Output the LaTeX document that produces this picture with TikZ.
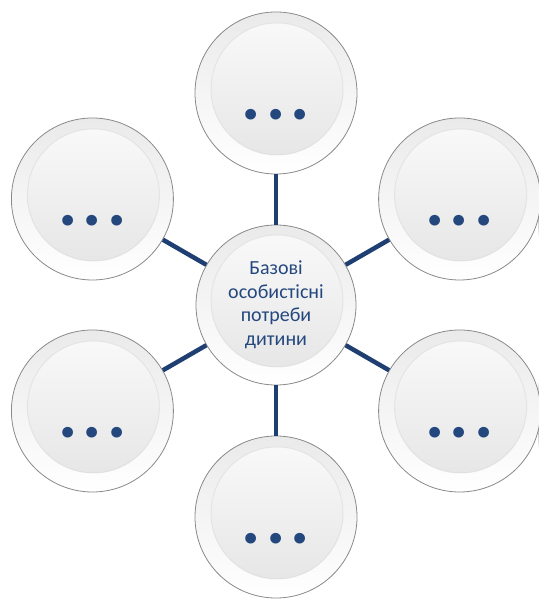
\documentclass[tikz,border=0pt]{standalone}
\usepackage{fontspec}
\setmainfont{Carlito}
\usetikzlibrary{backgrounds}
\definecolor{linkblue}{HTML}{1F3F73}
\definecolor{txtblue}{HTML}{24487E}
\definecolor{ringedge}{HTML}{8A8A8A}
\definecolor{ringtop}{HTML}{EAEAEA}
\definecolor{disctop}{HTML}{FAFAFA}
\definecolor{discbot}{HTML}{E4E4E4}
\newcommand\threedots{\smash{\raisebox{-27pt}{\fontsize{72}{72}\selectfont\bfseries\color{txtblue}\makebox[24.5pt]{.}\makebox[24.5pt]{.}\makebox[24.5pt]{.}}}}
\tikzset{
  bubble/.style={circle, minimum size=162pt, inner sep=0pt, draw=ringedge, line width=0.8pt,
    top color=ringtop, bottom color=white,
    path picture={
      \shade[top color=disctop, bottom color=discbot]
        ([shift={(1pt,4pt)}]path picture bounding box.center) circle (66pt);
      \draw[black!20, line width=1pt, opacity=0.35]
        ([shift={(1pt,4pt)}]path picture bounding box.center) circle (66pt);
    }},
  hub/.style={bubble, minimum size=160pt, align=center, text=txtblue,
    font=\fontsize{20}{23.5}\selectfont},
  link/.style={draw=linkblue, line width=4.5pt},
  shadowdisc/.style={fill=black, opacity=0.045}
}
\begin{document}
\begin{tikzpicture}
\useasboundingbox (0,0) rectangle (538pt,601pt);
\fill[white] (0,0) rectangle (538pt,601pt);
\coordinate (o) at (276pt,296pt);
\node[hub] (c) at (o) {Базові\\особистісні\\потреби\\дитини};
\node[bubble] (n1) at ([shift={(90:212pt)}]o) {\threedots};
\node[bubble] (n2) at ([shift={(150:212pt)}]o) {\threedots};
\node[bubble] (n3) at ([shift={(210:212pt)}]o) {\threedots};
\node[bubble] (n4) at ([shift={(270:212pt)}]o) {\threedots};
\node[bubble] (n5) at ([shift={(330:212pt)}]o) {\threedots};
\node[bubble] (n6) at ([shift={(30:212pt)}]o) {\threedots};
\begin{scope}[on background layer]
  \foreach \n in {c,n1,n2,n3,n4,n5,n6}
    \foreach \i in {0,...,6}
      \fill[shadowdisc] ([yshift=-4pt]\n.center) circle ({80pt+\i*0.9pt});
\end{scope}
\foreach \n in {n1,n2,n3,n4,n5,n6}
  \draw[link] (c) -- (\n);
\end{tikzpicture}
\end{document}
